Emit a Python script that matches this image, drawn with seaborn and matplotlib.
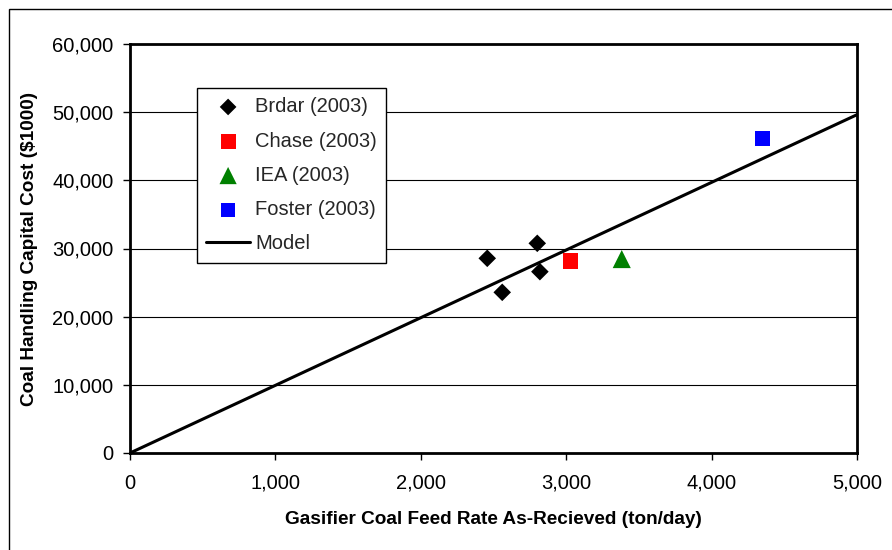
import matplotlib
matplotlib.use("Agg")
import matplotlib.pyplot as plt
import matplotlib.patches as mpatches
import seaborn as sns
import pandas as pd
from matplotlib.ticker import FuncFormatter, MultipleLocator

brdar_x = [2457, 2801, 2819, 2560]
brdar_y = [28560, 30760, 26600, 23570]
chase_x = [3030]
chase_y = [28210]
iea_x = [3382]
iea_y = [28450]
foster_x = [4348]
foster_y = [46160]
model_x = [0, 5000]
model_y = [0, 49630]

sns.set_theme(style="white")
plt.rcParams['font.family'] = ['Liberation Sans', 'DejaVu Sans']

fig = plt.figure(figsize=(8.92, 5.5), dpi=100)
ax = fig.add_axes([130/892, 97/550, 727/892, 409/550])

# outer frame
fig.patches.append(mpatches.Rectangle((9/892, -0.1), 1.2, (550-9)/550 + 0.1,
                                      transform=fig.transFigure, fill=False,
                                      edgecolor='black', linewidth=1.0, zorder=0))

for yv in range(10000, 60001, 10000):
    ax.axhline(yv, color='black', linewidth=0.8, zorder=1)

sns.lineplot(x=model_x, y=model_y, ax=ax, color='black', linewidth=2.2,
             label='Model', zorder=3)
sns.scatterplot(x=brdar_x, y=brdar_y, ax=ax, marker='D', color='black', s=80,
                edgecolor='none', label='Brdar (2003)', zorder=4)
sns.scatterplot(x=chase_x, y=chase_y, ax=ax, marker='s', color='#ff0000', s=130,
                edgecolor='none', label='Chase (2003)', zorder=4)
sns.scatterplot(x=iea_x, y=iea_y, ax=ax, marker='^', color='#008000', s=170,
                edgecolor='none', label='IEA (2003)', zorder=4)
sns.scatterplot(x=foster_x, y=foster_y, ax=ax, marker='s', color='#0000ff', s=120,
                edgecolor='none', label='Foster (2003)', zorder=4)

ax.set_xlim(0, 5000)
ax.set_ylim(0, 60000)
ax.xaxis.set_major_locator(MultipleLocator(1000))
ax.yaxis.set_major_locator(MultipleLocator(10000))
fmt = FuncFormatter(lambda v, p: f"{int(v):,}")
ax.xaxis.set_major_formatter(fmt)
ax.yaxis.set_major_formatter(fmt)
ax.tick_params(axis='both', which='major', direction='out', length=5, width=1,
               color='black', labelsize=14.5, labelcolor='black',
               bottom=True, left=True)
ax.tick_params(axis='x', pad=10)
ax.tick_params(axis='y', pad=7)
for s in ax.spines.values():
    s.set_color('black')
    s.set_linewidth(2)

ax.set_xlabel('Gasifier Coal Feed Rate As-Recieved (ton/day)', fontsize=13.7,
              fontweight='bold', color='black', labelpad=13)
ax.set_ylabel('Coal Handling Capital Cost ($1000)', fontsize=13.7,
              fontweight='bold', color='black', labelpad=10)

handles, labels = ax.get_legend_handles_labels()
order = ['Brdar (2003)', 'Chase (2003)', 'IEA (2003)', 'Foster (2003)', 'Model']
hmap = dict(zip(labels, handles))
leg = ax.legend([hmap[l] for l in order], order, loc='upper left',
                bbox_to_anchor=(0.092, 0.892), borderaxespad=0, fontsize=14.5,
                frameon=True, fancybox=False, edgecolor='black',
                labelspacing=0.76, handlelength=2.2, handletextpad=0.25,
                borderpad=0.45, markerscale=0.95)
leg.get_frame().set_linewidth(1.0)
leg.get_frame().set_alpha(1)

fig.savefig('out.png', dpi=100)
